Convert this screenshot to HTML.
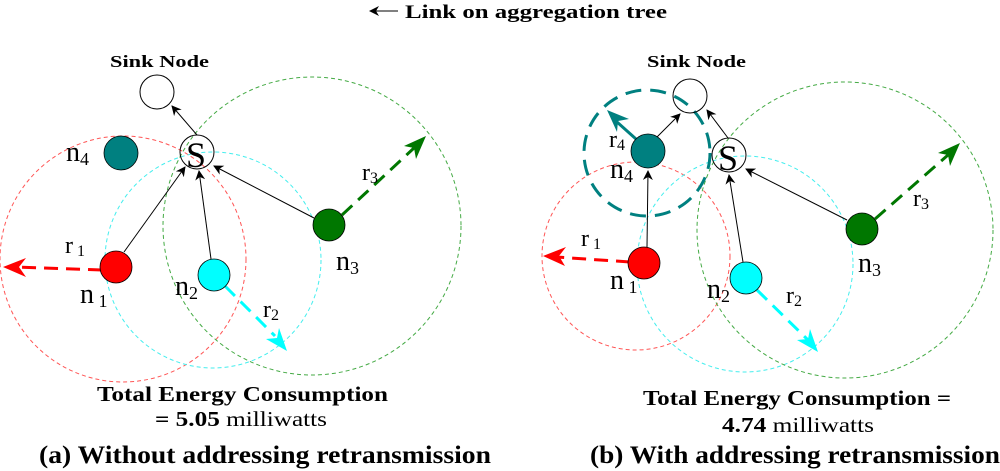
<!DOCTYPE html>
<html><head><meta charset="utf-8"><style>html,body{margin:0;padding:0;background:#fff}svg{display:block}svg text{font-family:"Liberation Serif","Times New Roman",serif}</style></head>
<body>
<svg width="1000" height="471" viewBox="0 0 1000 471" xmlns="http://www.w3.org/2000/svg" style="font-family:'Liberation Serif',serif">
<defs>
<marker id="ab" markerWidth="10" markerHeight="10" refX="9" refY="5" orient="auto" markerUnits="userSpaceOnUse"><path d="M0,0 L10,5 L0,10 L3,5 Z" fill="#000"/></marker>
</defs>
<line x1="398" y1="11" x2="370" y2="11" stroke="#000" stroke-width="1" marker-end="url(#ab)"/>
<text x="405" y="18" font-size="19" font-weight="bold" textLength="262" lengthAdjust="spacingAndGlyphs">Link on aggregation tree</text>

<!-- LEFT PANEL -->
<g fill="none" stroke-width="1" stroke-dasharray="4,3">
<circle cx="123" cy="259" r="123" stroke="#ff5555"/>
<circle cx="213" cy="260" r="108" stroke="#44eeee"/>
<circle cx="312" cy="226" r="149" stroke="#44aa44"/>
</g>
<text x="110" y="67" font-size="17" font-weight="bold" textLength="99" lengthAdjust="spacingAndGlyphs">Sink Node</text>
<circle cx="157" cy="92" r="17" fill="#fff" stroke="#000" stroke-width="1"/>
<circle cx="197" cy="152" r="17" fill="none" stroke="#000" stroke-width="1"/>
<text x="186" y="167" font-size="36">S</text>
<g stroke="#000" stroke-width="1">
<line x1="197" y1="135" x2="172" y2="106" marker-end="url(#ab)"/>
<line x1="124" y1="252" x2="185" y2="167" marker-end="url(#ab)"/>
<line x1="211" y1="259" x2="199" y2="171" marker-end="url(#ab)"/>
<line x1="314" y1="218" x2="214" y2="166" marker-end="url(#ab)"/>
</g>
<line x1="102" y1="270" x2="16" y2="267" stroke="#ff0000" stroke-width="3" stroke-dasharray="14,8"/>
<path d="M3,267 L26,258 L19,267 L26,277 Z" fill="#ff0000"/>
<line x1="225" y1="286" x2="275" y2="336" stroke="#00ffff" stroke-width="3" stroke-dasharray="14,8"/>
<path d="M287,351 L266,339 L277,338 L279,328 Z" fill="#00ffff"/>
<line x1="342" y1="215" x2="414" y2="148" stroke="#007700" stroke-width="3" stroke-dasharray="14,8"/>
<path d="M426,136 L404,146 L414,148 L416,159 Z" fill="#007700"/>
<circle cx="121" cy="153" r="17" fill="#008080" stroke="#000" stroke-width="0.8"/>
<circle cx="116" cy="267" r="16" fill="#ff0000" stroke="#000" stroke-width="0.8"/>
<circle cx="214" cy="275" r="16" fill="#00ffff" stroke="#000" stroke-width="0.8"/>
<circle cx="329" cy="225" r="16" fill="#007700" stroke="#000" stroke-width="0.8"/>
<g font-size="28">
<text x="66" y="161">n<tspan font-size="18" dy="4">4</tspan></text>
<text x="80" y="303">n<tspan font-size="18" dy="4"> 1</tspan></text>
<text x="175" y="295">n<tspan font-size="18" dy="4">2</tspan></text>
<text x="336" y="270">n<tspan font-size="18" dy="4">3</tspan></text>
<text x="65" y="253" font-size="24">r<tspan font-size="16" dy="3"> 1</tspan></text>
<text x="263" y="317" font-size="24">r<tspan font-size="16" dy="3">2</tspan></text>
<text x="362" y="180" font-size="24">r<tspan font-size="16" dy="3">3</tspan></text>
</g>
<text x="97" y="401" font-size="21" font-weight="bold" textLength="291" lengthAdjust="spacingAndGlyphs">Total Energy Consumption</text>
<text x="155" y="426" font-size="21" textLength="172" lengthAdjust="spacingAndGlyphs"><tspan font-weight="bold">= 5.05</tspan> milliwatts</text>
<text x="39" y="463" font-size="25" font-weight="bold" textLength="452" lengthAdjust="spacingAndGlyphs">(a) Without addressing retransmission</text>

<!-- RIGHT PANEL -->
<g fill="none" stroke-width="1" stroke-dasharray="4,3">
<circle cx="636" cy="256" r="94" stroke="#ff5555"/>
<circle cx="745" cy="264" r="108" stroke="#44eeee"/>
<circle cx="845" cy="230" r="148" stroke="#44aa44"/>
</g>
<circle cx="647" cy="153" r="63" fill="none" stroke="#008080" stroke-width="3" stroke-dasharray="16,9"/>
<text x="647" y="67" font-size="17" font-weight="bold" textLength="99" lengthAdjust="spacingAndGlyphs">Sink Node</text>
<circle cx="690" cy="96" r="17" fill="none" stroke="#000" stroke-width="1"/>
<circle cx="729" cy="155" r="17" fill="none" stroke="#000" stroke-width="1"/>
<text x="718" y="170" font-size="36">S</text>
<g stroke="#000" stroke-width="1">
<line x1="728" y1="138" x2="707" y2="110" marker-end="url(#ab)"/>
<line x1="657" y1="137" x2="680" y2="114" marker-end="url(#ab)"/>
<line x1="647" y1="247" x2="648" y2="171" marker-end="url(#ab)"/>
<line x1="743" y1="262" x2="729" y2="175" marker-end="url(#ab)"/>
<line x1="847" y1="220" x2="746" y2="169" marker-end="url(#ab)"/>
</g>
<line x1="630" y1="262" x2="556" y2="257" stroke="#ff0000" stroke-width="3" stroke-dasharray="14,8"/>
<path d="M543,256 L566,247 L559,256 L565,266 Z" fill="#ff0000"/>
<line x1="757" y1="290" x2="808" y2="340" stroke="#00ffff" stroke-width="3" stroke-dasharray="14,8"/>
<path d="M818,352 L797,340 L808,339 L810,329 Z" fill="#00ffff"/>
<line x1="875" y1="219" x2="948" y2="155" stroke="#007700" stroke-width="3" stroke-dasharray="14,8"/>
<path d="M960,143 L938,153 L948,155 L950,166 Z" fill="#007700"/>
<line x1="636" y1="139" x2="617" y2="122" stroke="#008080" stroke-width="3"/>
<path d="M607,110 L629,119 L618,121 L617,132 Z" fill="#008080"/>
<circle cx="648" cy="151" r="17" fill="#008080" stroke="#000" stroke-width="0.8"/>
<circle cx="644" cy="263" r="16" fill="#ff0000" stroke="#000" stroke-width="0.8"/>
<circle cx="746" cy="278" r="16" fill="#00ffff" stroke="#000" stroke-width="0.8"/>
<circle cx="862" cy="229" r="16" fill="#007700" stroke="#000" stroke-width="0.8"/>
<g font-size="28">
<text x="610" y="178">n<tspan font-size="18" dy="4">4</tspan></text>
<text x="610" y="289">n<tspan font-size="18" dy="4"> 1</tspan></text>
<text x="707" y="298">n<tspan font-size="18" dy="4">2</tspan></text>
<text x="858" y="272">n<tspan font-size="18" dy="4">3</tspan></text>
<text x="609" y="147" font-size="24">r<tspan font-size="16" dy="3">4</tspan></text>
<text x="581" y="246" font-size="24">r<tspan font-size="16" dy="3"> 1</tspan></text>
<text x="786" y="303" font-size="24">r<tspan font-size="16" dy="3">2</tspan></text>
<text x="913" y="206" font-size="24">r<tspan font-size="16" dy="3">3</tspan></text>
</g>
<text x="643" y="405" font-size="21" font-weight="bold" textLength="308" lengthAdjust="spacingAndGlyphs">Total Energy Consumption =</text>
<text x="722" y="432" font-size="21" textLength="152" lengthAdjust="spacingAndGlyphs"><tspan font-weight="bold">4.74</tspan> milliwatts</text>
<text x="590" y="463" font-size="25" font-weight="bold" textLength="410" lengthAdjust="spacingAndGlyphs">(b) With addressing retransmission</text>
</svg>
</body></html>
